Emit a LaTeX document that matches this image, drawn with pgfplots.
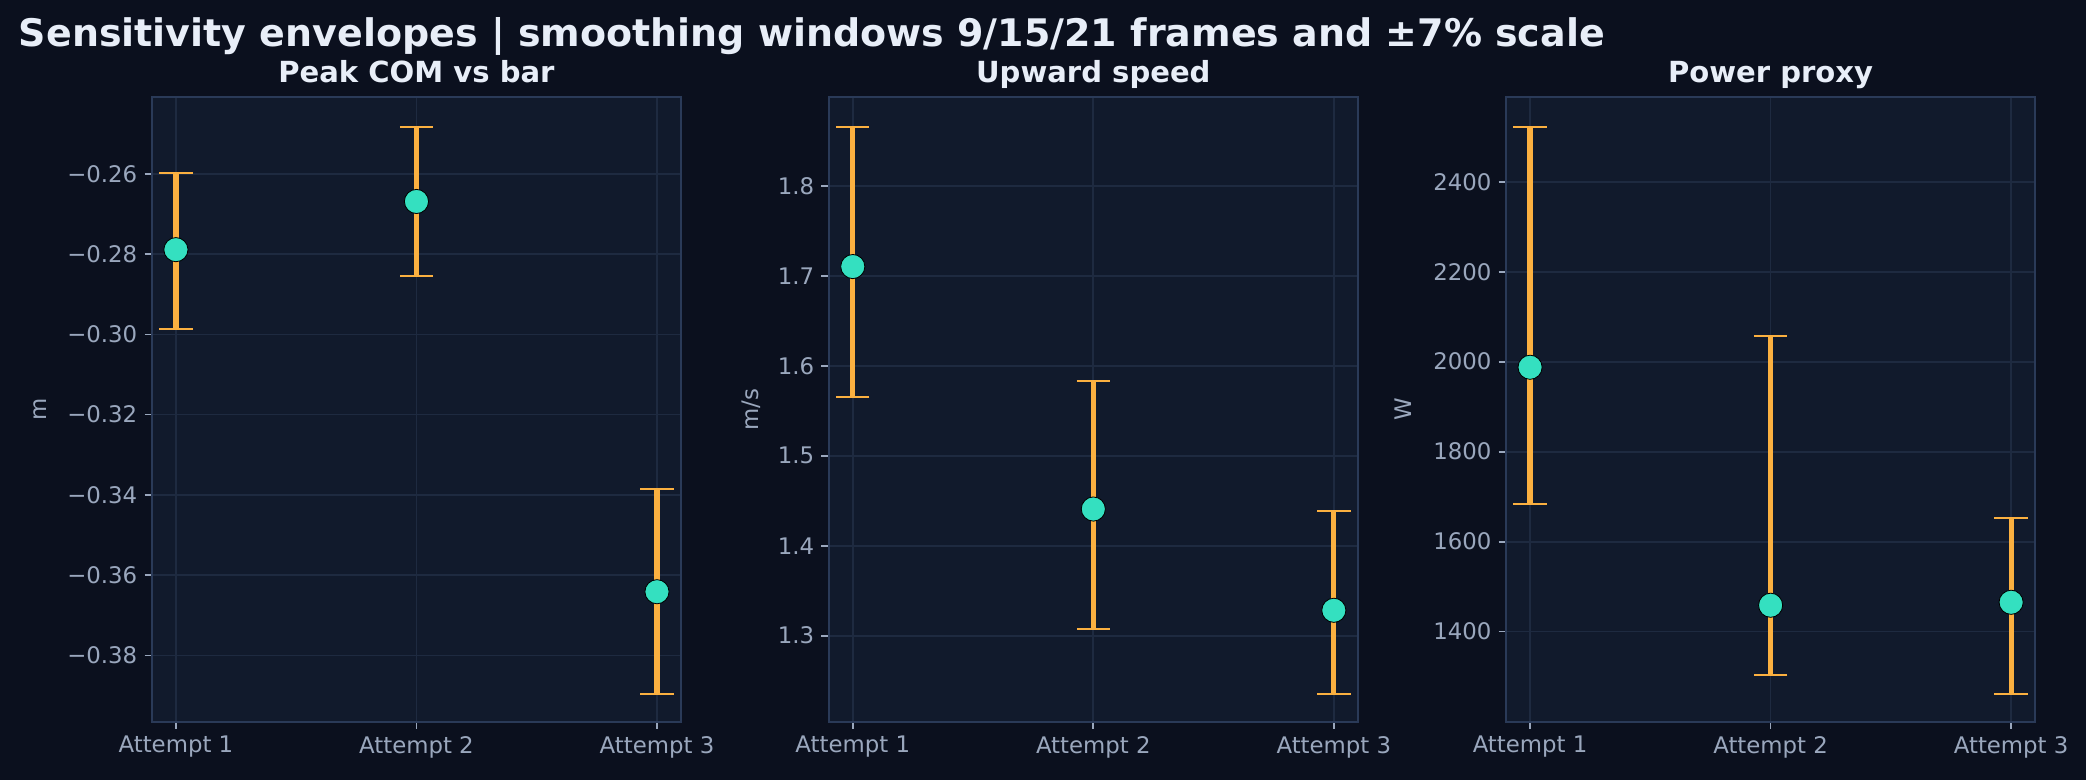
\documentclass[border=0pt]{standalone}
\usepackage{pgfplots}
\pgfplotsset{compat=1.18}
\usepackage{pgfplotstable}
\usepackage{fontspec}
\setmainfont{DejaVu Sans}
\definecolor{figbg}{HTML}{0B101E}
\definecolor{axbg}{HTML}{111A2C}
\definecolor{gridc}{HTML}{1E2A40}
\definecolor{framec}{HTML}{2A3A58}
\definecolor{tickc}{HTML}{9AA7BD}
\definecolor{titlec}{HTML}{E8EEF8}
\definecolor{markc}{HTML}{34E0C0}
\definecolor{errc}{HTML}{FBB040}

\pgfplotstableread{
x y lo hi
0 -0.2789 -0.29865 -0.2597
1 -0.2669 -0.2854 -0.2484
2 -0.3641 -0.3896 -0.3386
}\dataA
\pgfplotstableread{
x y lo hi
0 1.7104 1.5652 1.8652
1 1.4408 1.3071 1.5827
2 1.3282 1.2349 1.4386
}\dataB
\pgfplotstableread{
x y lo hi
0 1987.6 1683.8 2520.9
1 1458.7 1303.0 2056.4
2 1465.3 1260.9 1652.7
}\dataC

\pgfplotsset{
 envstyle/.style={
  scale only axis, width=254bp, height=299.7bp,
  anchor=south west,
  axis background/.style={fill=axbg},
  axis line style={draw=framec, line width=0.9bp},
  grid=major,
  major grid style={draw=gridc, line width=0.8bp},
  tick align=outside, tick pos=left,
  major tick length=3.5bp,
  every tick/.style={draw=tickc, line width=0.8bp},
  ticklabel style={font=\fontsize{11}{13}\selectfont, text=tickc},
  xmin=-0.1, xmax=2.1, xtick={0,1,2}, xticklabels={Attempt 1,Attempt 2,Attempt 3},
  every axis title shift=0pt,
  title style={font=\fontsize{14}{16}\selectfont\bfseries, text=titlec, at={(0.5,1)}, anchor=base, yshift=7.2bp},
 },
 ylab/.style={ylabel style={font=\fontsize{11}{13}\selectfont, text=tickc, at={(axis description cs:0,0.5)}, anchor=center, rotate=0, yshift=#1}},
 errplot/.style={draw=none, mark=none, error bars/.cd, y dir=both, y explicit,
   error bar style={draw=errc, line width=2.5bp},
   error mark options={draw=errc, rotate=90, mark size=8bp, line width=1bp}},
 ptplot/.style={only marks, mark=*, mark size=5.8bp, mark options={fill=markc, draw=none}},
}

\begin{document}
\begin{tikzpicture}
\fill[figbg] (0,0) rectangle (1001.3bp,374.4bp);
\node[anchor=base west, font=\fontsize{18.3}{22}\selectfont\bfseries, text=titlec, inner sep=0] at (8.9bp,352.3bp) {Sensitivity envelopes | smoothing windows 9/15/21 frames and ±7\% scale};

\begin{axis}[envstyle, at={(72.9bp,28.0bp)}, ylab=53.7bp,
  title={Peak COM vs bar}, ylabel={m},
  ymin=-0.39646, ymax=-0.24095,
  ytick={-0.38,-0.36,-0.34,-0.32,-0.30,-0.28,-0.26},
  yticklabels={−0.38,−0.36,−0.34,−0.32,−0.30,−0.28,−0.26}]
\addplot[errplot] table[x=x, y=y, y error plus expr=\thisrow{hi}-\thisrow{y}, y error minus expr=\thisrow{y}-\thisrow{lo}] {\dataA};
\addplot[ptplot] table[x=x, y=y] {\dataA};
\end{axis}

\begin{axis}[envstyle, at={(397.8bp,28.0bp)}, ylab=37bp,
  title={Upward speed}, ylabel={m/s},
  ymin=1.2044, ymax=1.8986,
  ytick={1.3,1.4,1.5,1.6,1.7,1.8},
  yticklabels={1.3,1.4,1.5,1.6,1.7,1.8}]
\addplot[errplot] table[x=x, y=y, y error plus expr=\thisrow{hi}-\thisrow{y}, y error minus expr=\thisrow{y}-\thisrow{lo}] {\dataB};
\addplot[ptplot] table[x=x, y=y] {\dataB};
\end{axis}

\begin{axis}[envstyle, at={(722.9bp,28.0bp)}, ylab=49.2bp,
  title={Power proxy}, ylabel={W},
  ymin=1200, ymax=2587.6,
  ytick={1400,1600,1800,2000,2200,2400},
  yticklabels={1400,1600,1800,2000,2200,2400}]
\addplot[errplot] table[x=x, y=y, y error plus expr=\thisrow{hi}-\thisrow{y}, y error minus expr=\thisrow{y}-\thisrow{lo}] {\dataC};
\addplot[ptplot] table[x=x, y=y] {\dataC};
\end{axis}

\pgfresetboundingbox
\useasboundingbox (0,0) rectangle (1001.3bp,374.4bp);
\end{tikzpicture}
\end{document}
